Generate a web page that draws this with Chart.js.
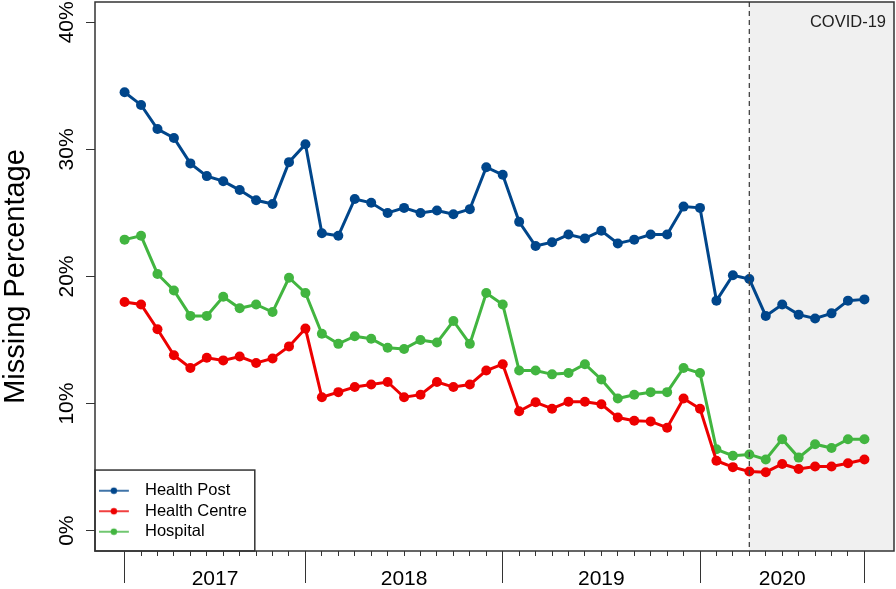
<!DOCTYPE html>
<html>
<head>
<meta charset="utf-8">
<script src="https://cdn.jsdelivr.net/npm/chart.js@4.4.0/dist/chart.umd.min.js"></script>
<style>
html,body{margin:0;padding:0;background:#fff;}
canvas{display:block;}
</style>
</head>
<body>
<canvas id="c" width="896" height="589"></canvas>
<script>
// ---------------- DATA ----------------
const months = [
  '2017-01','2017-02','2017-03','2017-04','2017-05','2017-06','2017-07','2017-08','2017-09','2017-10','2017-11','2017-12',
  '2018-01','2018-02','2018-03','2018-04','2018-05','2018-06','2018-07','2018-08','2018-09','2018-10','2018-11','2018-12',
  '2019-01','2019-02','2019-03','2019-04','2019-05','2019-06','2019-07','2019-08','2019-09','2019-10','2019-11','2019-12',
  '2020-01','2020-02','2020-03','2020-04','2020-05','2020-06','2020-07','2020-08','2020-09','2020-10'
];
const healthPost = [
  34.5, 33.5, 31.6, 30.9, 28.9, 27.9, 27.5, 26.8, 26.0, 25.7, 29.0, 30.4,
  23.4, 23.2, 26.1, 25.8, 25.0, 25.4, 25.0, 25.2, 24.9, 25.3, 28.6, 28.0,
  24.3, 22.4, 22.7, 23.3, 23.0, 23.6, 22.6, 22.9, 23.3, 23.3, 25.5, 25.4,
  18.1, 20.1, 19.8, 16.9, 17.8, 17.0, 16.7, 17.1, 18.1, 18.2
];
const healthCentre = [
  18.0, 17.8, 15.85, 13.8, 12.8, 13.6, 13.4, 13.7, 13.2, 13.55, 14.5, 15.9,
  10.5, 10.9, 11.3, 11.5, 11.7, 10.5, 10.7, 11.7, 11.3, 11.5, 12.6, 13.1,
  9.4, 10.1, 9.6, 10.15, 10.15, 9.95, 8.9, 8.65, 8.6, 8.1, 10.4, 9.6,
  5.5, 5.0, 4.65, 4.6, 5.25, 4.85, 5.05, 5.05, 5.3, 5.6
];
const hospital = [
  22.9, 23.2, 20.2, 18.9, 16.9, 16.9, 18.4, 17.5, 17.8, 17.2, 19.9, 18.7,
  15.5, 14.7, 15.3, 15.1, 14.4, 14.3, 15.0, 14.8, 16.5, 14.7, 18.7, 17.8,
  12.6, 12.6, 12.3, 12.4, 13.1, 11.9, 10.4, 10.7, 10.9, 10.9, 12.8, 12.4,
  6.4, 5.9, 6.0, 5.6, 7.2, 5.75, 6.8, 6.5, 7.2, 7.2
];
const seriesNames = ['Health Post', 'Health Centre', 'Hospital'];
const seriesColors = ['#00468B', '#ED0000', '#42B540'];
const yTicks = [0, 10, 20, 30, 40];
const covidMonth = '2020-03';
const covidLabel = 'COVID-19';
const yTitle = 'Missing Percentage';

// ---------------- DERIVED ----------------
const F = "'Liberation Sans', Arial, Helvetica, sans-serif";
Chart.defaults.font.family = F;
const seriesValues = [healthPost, healthCentre, hospital];
const idx = months.map((_, i) => i);
const yearOf = m => m.slice(0, 4);
const monthYears = months.map(yearOf);
const years = [...new Set(monthYears)];
const yearBounds = [0, ...years.map(y => monthYears.lastIndexOf(y))];
const yearMid = years.map((y, i) => (yearBounds[i] + yearBounds[i + 1]) / 2);
const covidIdx = months.indexOf(covidMonth);
const n = months.length - 1;
const xMin = -0.04 * n, xMax = n * 1.04;
const yMin = -0.04 * 40, yMax = 40 * 1.04;

const iconCache = {};
function legendIcon(color) {
  if (iconCache[color]) return iconCache[color];
  const c = document.createElement('canvas');
  c.width = 38; c.height = 10;
  const g = c.getContext('2d');
  g.strokeStyle = color; g.lineWidth = 1.5;
  g.beginPath(); g.moveTo(0, 5); g.lineTo(30, 5); g.stroke();
  g.fillStyle = color; g.beginPath(); g.arc(15, 5, 3.2, 0, Math.PI * 2); g.fill();
  iconCache[color] = c;
  return c;
}

const legendShift = {
  id: 'legendShift',
  afterLayout(chart) {
    const L = chart.legend;
    if (L) { L.top = chart.chartArea.top; L.bottom = chart.chartArea.bottom - 7; }
  }
};

const decor = {
  id: 'decor',
  beforeDatasetsDraw(chart) {
    const {ctx, chartArea: a} = chart;
    const cx = chart.scales.x.getPixelForValue(covidIdx);
    ctx.save();
    ctx.fillStyle = '#f0f0f0';
    ctx.fillRect(cx, a.top, a.right - cx, a.bottom - a.top);
    ctx.restore();
  },
  afterDatasetsDraw(chart) {
    const {ctx, chartArea: a} = chart;
    const cx = chart.scales.x.getPixelForValue(covidIdx);
    ctx.save();
    ctx.strokeStyle = '#444'; ctx.lineWidth = 1.3; ctx.setLineDash([5, 4]);
    ctx.beginPath(); ctx.moveTo(cx, a.top); ctx.lineTo(cx, a.bottom); ctx.stroke();
    ctx.restore();
  },
  afterDraw(chart) {
    const {ctx, chartArea: a} = chart;
    ctx.save();
    ctx.strokeStyle = '#333'; ctx.lineWidth = 1.5;
    ctx.strokeRect(a.left, a.top, a.right - a.left, a.bottom - a.top);
    const L = chart.legend;
    if (L && L.legendHitBoxes && L.legendHitBoxes.length) {
      const hb = L.legendHitBoxes;
      const top = hb[0].top + 16.5 / 2 - 20.7;
      const right = Math.max(...hb.map(h => h.left + h.width)) + 8;
      ctx.strokeRect(a.left, top, right - a.left, a.bottom - top);
    }
    ctx.fillStyle = '#222';
    ctx.font = '16.5px ' + F;
    ctx.textAlign = 'right'; ctx.textBaseline = 'middle';
    ctx.fillText(covidLabel, a.right - 8, a.top + 20);
    ctx.restore();
  }
};

new Chart(document.getElementById('c'), {
  type: 'line',
  data: {
    datasets: seriesNames.map((name, s) => ({
      label: name,
      data: seriesValues[s].map((v, i) => ({x: idx[i], y: v})),
      borderColor: seriesColors[s],
      backgroundColor: seriesColors[s],
      pointBackgroundColor: seriesColors[s],
      pointBorderWidth: 0,
      pointRadius: 5,
      borderWidth: 3,
      tension: 0,
      xAxisID: 'x',
      yAxisID: 'y'
    }))
  },
  options: {
    responsive: false,
    animation: false,
    devicePixelRatio: 1,
    layout: {autoPadding: false, padding: {top: 2, right: 2, left: 0, bottom: 0}},
    plugins: {
      tooltip: {enabled: false},
      legend: {
        position: 'chartArea',
        align: 'end',
        labels: {
          usePointStyle: true,
          pointStyleWidth: 37.75,
          padding: 4,
          color: '#000',
          font: {size: 16.5, family: F},
          generateLabels: chart => chart.data.datasets.map((d, i) => ({
            text: d.label,
            pointStyle: legendIcon(d.borderColor),
            fillStyle: d.borderColor,
            strokeStyle: d.borderColor,
            lineWidth: 0,
            hidden: false,
            datasetIndex: i,
            fontColor: '#000'
          }))
        }
      }
    },
    scales: {
      x: {
        type: 'linear', position: 'bottom', min: xMin, max: xMax, weight: 0,
        afterBuildTicks: s => { s.ticks = idx.map(v => ({value: v})); },
        afterFit: s => { s.height = 5; s.paddingLeft = 0; s.paddingRight = 0; },
        ticks: {display: false},
        grid: {drawOnChartArea: false, drawTicks: true, tickLength: 5, tickColor: '#333', tickWidth: 1},
        border: {display: false}
      },
      x2: {
        type: 'linear', position: 'bottom', min: xMin, max: xMax, weight: 1,
        afterBuildTicks: s => {
          s.ticks = [...yearBounds, ...yearMid].sort((a, b) => a - b).map(v => ({value: v}));
        },
        afterFit: s => { s.height = 33; s.paddingLeft = 0; s.paddingRight = 0; },
        ticks: {
          autoSkip: false, maxRotation: 0, minRotation: 0, padding: -16,
          color: '#000', font: {size: 21, family: F},
          callback: v => { const k = yearMid.indexOf(v); return k >= 0 ? years[k] : ''; }
        },
        grid: {
          drawOnChartArea: false, tickLength: 27, tickWidth: 1,
          tickColor: c => (c.tick && yearBounds.includes(c.tick.value)) ? '#333' : 'rgba(0,0,0,0)'
        },
        border: {display: false}
      },
      y: {
        type: 'linear', position: 'left', min: yMin, max: yMax,
        afterBuildTicks: s => { s.ticks = yTicks.map(v => ({value: v})); },
        afterFit: s => { s.width = 95; s.paddingTop = 0; s.paddingBottom = 0; },
        ticks: {
          minRotation: 90, maxRotation: 90, crossAlign: 'center', padding: -2.7,
          color: '#000', font: {size: 21, family: F},
          callback: v => v + '%'
        },
        grid: {drawOnChartArea: false, tickLength: 9, tickColor: '#333', tickWidth: 1},
        border: {display: false},
        title: {
          display: true, text: yTitle, color: '#000',
          font: {size: 29, family: F, lineHeight: 1},
          padding: {top: 1.5, bottom: 0}
        }
      }
    }
  },
  plugins: [legendShift, decor]
});
</script>
</body>
</html>
